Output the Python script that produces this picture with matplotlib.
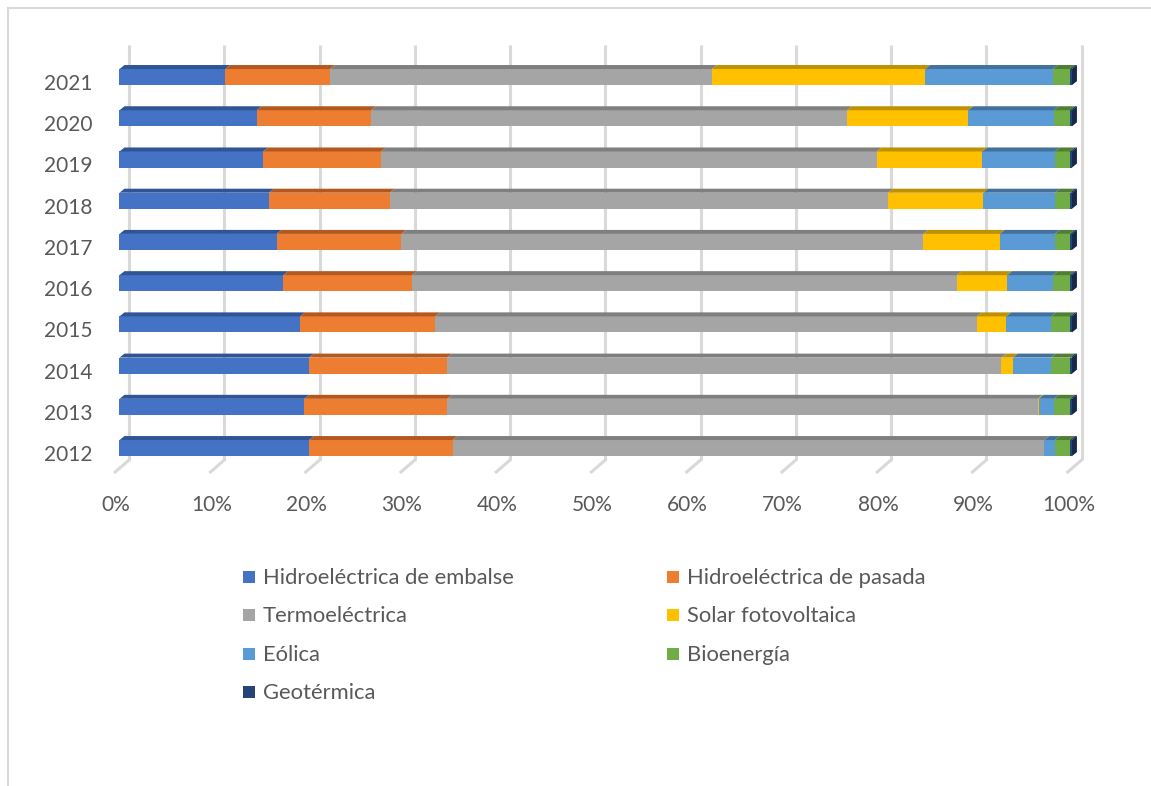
import numpy as np
import matplotlib
matplotlib.use("Agg")
import matplotlib.pyplot as plt
from matplotlib.patches import Polygon, Rectangle
from matplotlib.lines import Line2D

plt.rcParams['font.family'] = ['Lato', 'DejaVu Sans']

# share of generation by source (% of total), 2012 -> 2021
years = ['2012', '2013', '2014', '2015', '2016', '2017', '2018', '2019', '2020', '2021']
hidro_embalse = [19.9, 19.4, 19.9, 19.0, 17.2, 16.5, 15.7, 15.1, 14.4, 11.1]
hidro_pasada = [15.1, 15.0, 14.5, 14.2, 13.5, 13.1, 12.7, 12.4, 12.0, 11.0]
termo = [62.1, 62.0, 58.2, 56.9, 57.2, 54.8, 52.3, 52.0, 50.0, 40.1]
solar = [0.0, 0.1, 1.2, 3.1, 5.3, 8.0, 10.0, 11.1, 12.7, 22.4]
eolica = [1.1, 1.6, 4.0, 4.7, 4.8, 5.8, 7.5, 7.6, 9.0, 13.4]
bio = [1.6, 1.7, 2.0, 2.0, 1.8, 1.6, 1.6, 1.6, 1.7, 1.8]
geo = [0.2, 0.2, 0.2, 0.2, 0.2, 0.2, 0.2, 0.2, 0.2, 0.2]

labels = ['Hidroeléctrica de embalse', 'Hidroeléctrica de pasada', 'Termoeléctrica',
          'Solar fotovoltaica', 'Eólica', 'Bioenergía', 'Geotérmica']
colors = ['#4472C4', '#ED7D31', '#A5A5A5', '#FFC000', '#5B9BD5', '#70AD47', '#264478']
tops = ['#2F5597', '#B4581F', '#7F7F7F', '#BF9000', '#41719C', '#507E32', '#1A2E52']
side = '#16294A'

series = np.array([hidro_embalse, hidro_pasada, termo, solar, eolica, bio, geo])
series = series / series.sum(axis=0) * 100  # 100% stacked

text_col = '#595959'
grid_col = '#D9D9D9'

fig = plt.figure(figsize=(11.51, 7.86), dpi=100)
ax = fig.add_axes([0.08727, 0.3932, 0.8689, 0.5612])
ax.set_xlim(-2, 103)
ax.set_ylim(-0.7, 10.0)
ax.patch.set_alpha(0)
for s in ax.spines.values():
    s.set_visible(False)

# pseudo-3D offsets (depth of the plot box and of the bars)
back_dx, front_dx = 1.0, -0.45
wall_bottom, floor_front, wall_top = -0.29, -0.58, 9.78
bar_h = 0.39
dx, dy = 0.52, 0.097

ticks = np.arange(0, 101, 10)
ax.vlines(ticks + back_dx, wall_bottom, wall_top, color=grid_col, lw=2.2, zorder=1)
for t in ticks:
    ax.plot([t + front_dx, t + back_dx], [floor_front, wall_bottom], color=grid_col, lw=2.2, zorder=1)

ypos = np.arange(len(years))
left = np.zeros(len(years))
for k in range(len(series)):
    w = series[k]
    ax.barh(ypos, w, left=left, height=bar_h, color=colors[k], edgecolor='none', zorder=3)
    for i in range(len(years)):
        if w[i] <= 0:
            continue
        yt = ypos[i] + bar_h / 2
        x0, x1 = left[i], left[i] + w[i]
        ax.add_patch(Polygon([(x0, yt), (x1, yt), (x1 + dx, yt + dy), (x0 + dx, yt + dy)],
                             closed=True, facecolor=tops[k], edgecolor='none', zorder=3))
    left = left + w

# right-hand side face of each bar
for i in range(len(years)):
    yb, yt = ypos[i] - bar_h / 2, ypos[i] + bar_h / 2
    ax.add_patch(Polygon([(left[i], yb), (left[i], yt), (left[i] + dx, yt + dy), (left[i] + dx, yb + dy)],
                         closed=True, facecolor=side, edgecolor='none', zorder=3))

ax.set_yticks(ypos - 0.12, labels=years)
ax.set_xticks(ticks - 0.37, labels=[f'{t}%' for t in ticks])
ax.tick_params(axis='y', length=0, pad=6, labelsize=15, labelcolor=text_col)
ax.tick_params(axis='x', length=0, pad=13, labelsize=15, labelcolor=text_col)

# legend, two columns in row order
W, H = 1151, 786
leg_x = [243, 667]
leg_y = [577, 615, 654, 692]
for n, (lab, col) in enumerate(zip(labels, colors)):
    cx = leg_x[n % 2]
    cy = leg_y[n // 2]
    fig.patches.append(Rectangle((cx / W, 1 - (cy + 6) / H), 12 / W, 12 / H,
                                 transform=fig.transFigure, facecolor=col, edgecolor='none'))
    fig.text((cx + 20) / W, 1 - (cy + 1) / H, lab, fontsize=15.8, color=text_col, va='center', ha='left')

# chart area border
fig.add_artist(Line2D([8 / W, 1], [1 - 8 / H, 1 - 8 / H], transform=fig.transFigure, color=grid_col, lw=1.5))
fig.add_artist(Line2D([8 / W, 8 / W], [0, 1 - 8 / H], transform=fig.transFigure, color=grid_col, lw=1.5))

fig.savefig('out.png', dpi=100)
